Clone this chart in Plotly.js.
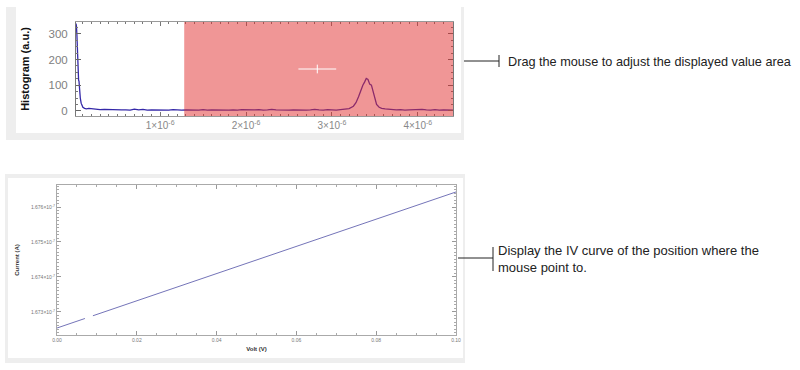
<!DOCTYPE html>
<html><head><meta charset="utf-8">
<script src="https://cdn.plot.ly/plotly-3.0.1.min.js"></script>
<style>html,body{margin:0;padding:0;background:#fff}#chart{width:800px;height:370px}</style>
</head><body><div id="chart"></div>
<script>
// ---- Histogram panel data (x in units of 1e-6) ----
const histXMicro = [0.02,0.025,0.03,0.035,0.04,0.045,0.05,0.055,0.06,0.07,0.08,0.09,0.10,0.12,0.14,0.17,0.20,0.25,0.30,0.35,0.40,0.45,0.50,0.55,0.60,0.65,0.70,0.75,0.80,0.85,0.90,0.95,1.00,1.05,1.10,1.15,1.20,1.25,1.30,1.35,1.40,1.45,1.50,1.55,1.60,1.65,1.70,1.75,1.80,1.85,1.90,1.95,2.00,2.05,2.10,2.15,2.20,2.25,2.30,2.35,2.40,2.45,2.50,2.55,2.60,2.65,2.70,2.75,2.80,2.85,2.90,2.95,3.00,3.05,3.10,3.15,3.20,3.25,3.28,3.31,3.34,3.36,3.38,3.40,3.42,3.44,3.46,3.48,3.50,3.52,3.55,3.58,3.62,3.66,3.70,3.75,3.80,3.85,3.90,3.95,4.00,4.05,4.10,4.15,4.20,4.25,4.30,4.35,4.41];
const histCounts = [340,330,300,240,180,175,120,115,80,50,30,20,14,10,8,10,9,6,5,6,5,4,5,4,4,3,7,4,6,3,4,3,3,4,3,5,3,3,4,3,4,3,5,3,4,3,4,3,3,4,3,5,4,3,4,5,3,4,6,4,3,4,3,4,3,4,3,4,6,4,3,5,4,3,5,6,9,18,32,55,85,100,112,126,122,104,100,75,45,25,14,10,8,6,5,4,5,3,4,5,4,6,4,3,5,3,4,3,3];
const histXTickVals = [1e-6,2e-6,3e-6,4e-6];
const histXTickText = ['1×10<sup>-6</sup>','2×10<sup>-6</sup>','3×10<sup>-6</sup>','4×10<sup>-6</sup>'];
const histYTickVals = [0,100,200,300];
const selectionRange = [1.28e-6, 4.41e-6];
const cursorPos = [2.83e-6, 163];

// ---- IV curve panel data ----
const ivVolt = [0, 0.007, 0.008, 0.009, 0.02, 0.04, 0.06, 0.08, 0.10];
const ivCurrent = [1.67254e-7, 1.672812e-7, null, 1.67289e-7, 1.673318e-7, 1.674096e-7, 1.674874e-7, 1.675652e-7, 1.67643e-7];
const ivXTickVals = [0, 0.02, 0.04, 0.06, 0.08, 0.10];
const ivXTickText = ['0.00','0.02','0.04','0.06','0.08','0.10'];
const ivYTickVals = [1.673e-7, 1.674e-7, 1.675e-7, 1.676e-7];
const ivYTickText = ['1.673×10<sup>-7</sup>','1.674×10<sup>-7</sup>','1.675×10<sup>-7</sup>','1.676×10<sup>-7</sup>'];

const histX = histXMicro.map(v => v * 1e-6);
const W = 800, H = 370;
const px = x => x / W, py = y => 1 - y / H;
const FONT = 'Liberation Sans, Arial, sans-serif';

const traces = [
  {x: histX, y: histCounts, type: 'scatter', mode: 'lines', xaxis: 'x', yaxis: 'y',
   line: {color: '#3428a8', width: 1.3}, hoverinfo: 'skip'},
  {x: ivVolt, y: ivCurrent, type: 'scatter', mode: 'lines', xaxis: 'x2', yaxis: 'y2',
   connectgaps: false, line: {color: '#6464b0', width: 0.9}, hoverinfo: 'skip'}
];

const shapes = [
  {type:'rect', xref:'paper', yref:'paper', x0:px(6), x1:px(464), y0:py(140), y1:py(7), fillcolor:'#eeeeee', line:{width:0}, layer:'below'},
  {type:'rect', xref:'paper', yref:'paper', x0:px(16), x1:px(461), y0:py(133), y1:py(7), fillcolor:'#ffffff', line:{width:0}, layer:'below'},
  {type:'rect', xref:'paper', yref:'paper', x0:px(5), x1:px(465), y0:py(363), y1:py(174), fillcolor:'#eeeeee', line:{width:0}, layer:'below'},
  {type:'rect', xref:'paper', yref:'paper', x0:px(8), x1:px(463), y0:py(358), y1:py(178), fillcolor:'#ffffff', line:{width:0}, layer:'below'},
  {type:'rect', xref:'x', yref:'y domain', x0:selectionRange[0], x1:selectionRange[1], y0:0, y1:1, fillcolor:'rgb(225,45,45)', opacity:0.5, line:{width:0}, layer:'above'},
  {type:'line', xref:'x', yref:'y', x0:cursorPos[0]-0.22e-6, x1:cursorPos[0]+0.22e-6, y0:cursorPos[1], y1:cursorPos[1], line:{color:'#ffffff', width:1}},
  {type:'line', xref:'x', yref:'y', x0:cursorPos[0], x1:cursorPos[0], y0:cursorPos[1]-17, y1:cursorPos[1]+17, line:{color:'#ffffff', width:1}},
  {type:'line', xref:'paper', yref:'paper', x0:px(464), x1:px(499), y0:py(61), y1:py(61), line:{color:'#222', width:1}},
  {type:'line', xref:'paper', yref:'paper', x0:px(499), x1:px(499), y0:py(55), y1:py(67), line:{color:'#222', width:1}},
  {type:'line', xref:'paper', yref:'paper', x0:px(458), x1:px(493), y0:py(258), y1:py(258), line:{color:'#222', width:1}},
  {type:'line', xref:'paper', yref:'paper', x0:px(493), x1:px(493), y0:py(247), y1:py(271), line:{color:'#222', width:1}}
];

const annotations = [
  {xref:'paper', yref:'paper', x:px(506), y:py(62), xanchor:'left', yanchor:'middle', showarrow:false, align:'left',
   text:'Drag the mouse to adjust the displayed value area', font:{family:FONT, size:12.7, color:'#222'}},
  {xref:'paper', yref:'paper', x:px(496), y:py(259), xanchor:'left', yanchor:'middle', showarrow:false, align:'left',
   text:'Display the IV curve of the position where the<br>mouse point to.', font:{family:FONT, size:13, color:'#222'}}
];

const layout = {
  width: W, height: H,
  margin: {l:0, r:0, t:0, b:0},
  paper_bgcolor: '#ffffff', plot_bgcolor: '#ffffff',
  showlegend: false,
  font: {family: FONT},
  xaxis: {
    domain: [px(76), px(453)], range: [0.02e-6, 4.41e-6], anchor: 'y',
    tickmode: 'array', tickvals: histXTickVals, ticktext: histXTickText,
    ticks: 'inside', ticklen: 4, tickcolor: '#777',
    minor: {tickmode:'linear', tick0:0, dtick:1e-7, ticks:'inside', ticklen:2, tickcolor:'#777'},
    showline: true, linecolor: '#999', mirror: 'ticks', showgrid: false, zeroline: false,
    tickfont: {family: FONT, size: 10, color: '#888'}
  },
  yaxis: {
    domain: [py(116), py(22)], range: [-20, 346], anchor: 'x',
    tickmode: 'array', tickvals: histYTickVals,
    ticks: 'inside', ticklen: 5, tickcolor: '#666', ticklabelstandoff: 5,
    minor: {tickmode:'linear', tick0:0, dtick:25, ticks:'inside', ticklen:2, tickcolor:'#777'},
    showline: true, linecolor: '#777', mirror: 'ticks', showgrid: false, zeroline: false,
    tickfont: {family: FONT, size: 11.5, color: '#808080'},
    title: {text: '<b>Histogram (a.u.)</b>', font: {family: FONT, size: 11, color: '#111'}, standoff: 16}
  },
  xaxis2: {
    domain: [px(57), px(456)], range: [0, 0.10], anchor: 'y2',
    tickmode: 'array', tickvals: ivXTickVals, ticktext: ivXTickText,
    ticks: 'inside', ticklen: 4, tickcolor: '#999',
    minor: {tickmode:'linear', tick0:0, dtick:0.005, ticks:'inside', ticklen:2, tickcolor:'#aaa'},
    showline: true, linecolor: '#aaa', mirror: 'ticks', showgrid: false, zeroline: false,
    tickfont: {family: FONT, size: 5, color: '#777'},
    title: {text: '<b>Volt (V)</b>', font: {family: FONT, size: 6, color: '#333'}, standoff: 4}
  },
  yaxis2: {
    domain: [py(335), py(185)], range: [1.67234e-7, 1.676629e-7], anchor: 'x2',
    tickmode: 'array', tickvals: ivYTickVals, ticktext: ivYTickText,
    ticks: 'inside', ticklen: 4, tickcolor: '#999',
    minor: {tickmode:'linear', tick0:1.672e-7, dtick:1e-11, ticks:'inside', ticklen:2, tickcolor:'#aaa'},
    showline: true, linecolor: '#aaa', mirror: 'ticks', showgrid: false, zeroline: false,
    tickfont: {family: FONT, size: 5, color: '#777'},
    title: {text: '<b>Current (A)</b>', font: {family: FONT, size: 6, color: '#333'}, standoff: 10}
  },
  shapes: shapes,
  annotations: annotations
};

Plotly.newPlot('chart', traces, layout, {staticPlot: true, displayModeBar: false});
</script>
</body></html>
